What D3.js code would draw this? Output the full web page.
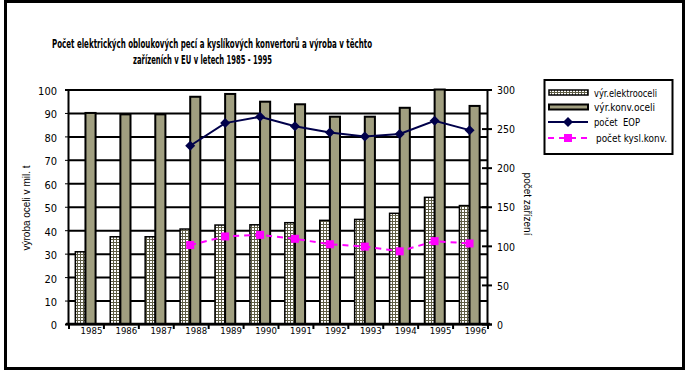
<!DOCTYPE html>
<html><head><meta charset="utf-8">
<script src="https://cdn.jsdelivr.net/npm/d3@7/dist/d3.min.js"></script>
<style>
body{margin:0;background:#fff;}
svg{display:block;}
.nar{font-family:"Liberation Sans Narrow","Arial Narrow","DejaVu Sans Condensed",sans-serif;white-space:pre;}
.reg{font-family:"Liberation Sans",Arial,sans-serif;}
</style></head>
<body>
<svg id="c" width="689" height="374"></svg>
<script>
const years = ['1985','1986','1987','1988','1989','1990','1991','1992','1993','1994','1995','1996'];
const elektro = [30.8, 37.2, 37.2, 40.5, 42.2, 42.3, 43.2, 44.2, 44.6, 47.2, 54, 50.5];
const konv = [90, 89.4, 89.4, 96.9, 98.1, 94.8, 93.7, 88.4, 88.4, 92.2, 100, 93];
const eop = [null, null, null, 228, 257, 265, 253, 245, 240, 243, 260, 248];
const kysl = [null, null, null, 101, 112, 114, 109, 102, 99, 93, 106, 103];
const leftTicks = [0,10,20,30,40,50,60,70,80,90,100];
const rightTicks = [0,50,100,150,200,250,300];
const seriesNames = ['výr.elektrooceli','výr.konv.oceli','počet  EOP','počet kysl.konv.'];
const titleLines = ['Počet elektrických obloukových pecí a kyslíkových konvertorů a výroba v těchto','zařízeních v EU v letech 1985 - 1995'];

const svg = d3.select('#c');
const L = 68, R = 487, T = 89.5, B = 324;
const olive = '#a19f80', navy = '#00004a', mag = '#ff00ff';

const defs = svg.append('defs');
const pat = defs.append('pattern').attr('id','grid').attr('width',3).attr('height',3).attr('patternUnits','userSpaceOnUse');
pat.append('rect').attr('width',3).attr('height',3).attr('fill','#fff');
pat.append('rect').attr('x',0).attr('y',2).attr('width',3).attr('height',1).attr('fill','#5e5d45');
pat.append('rect').attr('x',2).attr('y',0).attr('width',1).attr('height',3).attr('fill','#5e5d45');

// outer frame
svg.append('rect').attr('x',5.5).attr('y',1.5).attr('width',678).attr('height',367)
  .attr('fill','#fff').attr('stroke','#000').attr('stroke-width',3);

const x = d3.scaleBand().domain(years).range([L,R]).padding(0);
const yL = d3.scaleLinear().domain([0,100]).range([B,T]);
const yR = d3.scaleLinear().domain([0,300]).range([B,T]);
const bw = x.bandwidth()*0.29;

// gridlines
svg.append('g').attr('transform',`translate(${L},0)`)
  .call(d3.axisLeft(yL).tickValues(leftTicks).tickSize(-(R-L)).tickFormat(''))
  .call(g=>g.select('.domain').remove())
  .call(g=>g.selectAll('line').attr('stroke','#000').attr('stroke-width',2));

// bars
svg.append('g').selectAll('rect').data(years).join('rect')
  .attr('x',d=>x(d)+x.bandwidth()/2-bw).attr('width',bw)
  .attr('y',(d,i)=>yL(elektro[i])).attr('height',(d,i)=>B-yL(elektro[i]))
  .attr('fill','url(#grid)').attr('stroke','#000').attr('stroke-width',1.5);
svg.append('g').selectAll('rect').data(years).join('rect')
  .attr('x',d=>x(d)+x.bandwidth()/2).attr('width',bw)
  .attr('y',(d,i)=>yL(konv[i])).attr('height',(d,i)=>B-yL(konv[i]))
  .attr('fill',olive).attr('stroke','#000').attr('stroke-width',2);

// left axis
svg.append('g').attr('transform',`translate(${L},0)`)
  .call(d3.axisLeft(yL).tickValues(leftTicks).tickSize(3).tickPadding(8))
  .call(g=>g.select('.domain').attr('stroke','#000').attr('stroke-width',2))
  .call(g=>g.selectAll('text').attr('class','nar').attr('font-size',11).attr('fill','#000').attr('dy','0.45em'));

// right axis
svg.append('g').attr('transform',`translate(${R},0)`)
  .call(d3.axisRight(yR).tickValues(rightTicks).tickSize(5).tickPadding(5))
  .call(g=>g.select('.domain').attr('stroke','#000').attr('stroke-width',2))
  .call(g=>g.selectAll('.tick line').attr('x1',-5).attr('stroke-width',2))
  .call(g=>g.selectAll('text').attr('class','nar').attr('font-size',10.5).attr('fill','#000').attr('dy','0.4em'));

// bottom axis
svg.append('line').attr('x1',66).attr('x2',490).attr('y1',B).attr('y2',B).attr('stroke','#000').attr('stroke-width',2.5);
svg.append('g').selectAll('line').data(years.concat(['end'])).join('line')
  .attr('x1',(d,i)=>L+i*x.step()+1).attr('x2',(d,i)=>L+i*x.step()+1)
  .attr('y1',B).attr('y2',B+5).attr('stroke','#000').attr('stroke-width',2);
svg.append('g').attr('transform',`translate(6,${B})`)
  .call(d3.axisBottom(x).tickSize(0).tickPadding(3))
  .call(g=>g.select('.domain').remove())
  .call(g=>g.selectAll('text').attr('class','nar').attr('font-size',9.5).attr('fill','#000'));

// lines
const cx = d=>x(d)+x.bandwidth()/2;
const ptsE = years.map((d,i)=>[d,eop[i]]).filter(p=>p[1]!=null);
const ptsK = years.map((d,i)=>[d,kysl[i]]).filter(p=>p[1]!=null);
const line = d3.line().x(p=>cx(p[0])).y(p=>yR(p[1]));
svg.append('path').datum(ptsK).attr('d',line).attr('fill','none').attr('stroke',mag).attr('stroke-width',2).attr('stroke-dasharray','6,5');
svg.append('g').selectAll('rect').data(ptsK).join('rect')
  .attr('x',p=>cx(p[0])-4).attr('y',p=>yR(p[1])-4).attr('width',8).attr('height',8).attr('fill',mag);
svg.append('path').datum(ptsE).attr('d',line).attr('fill','none').attr('stroke',navy).attr('stroke-width',2);
svg.append('g').selectAll('path').data(ptsE).join('path')
  .attr('d','M0,-5L5,0L0,5L-5,0Z')
  .attr('transform',p=>`translate(${cx(p[0])},${yR(p[1])})`).attr('fill',navy);

// axis titles
svg.append('text').attr('class','reg').attr('font-size',10).attr('text-anchor','middle')
  .attr('transform','translate(30,208) rotate(-90)').text('výroba oceli v mil. t');
svg.append('text').attr('class','reg').attr('font-size',10).attr('text-anchor','middle')
  .attr('transform','translate(524,204) rotate(90)').text('počet zařízení');

// title
svg.append('text').attr('class','nar').attr('font-weight','bold').attr('font-size',13)
  .attr('x',52).attr('y',48).attr('textLength',320).attr('lengthAdjust','spacingAndGlyphs').text(titleLines[0]);
svg.append('text').attr('class','nar').attr('font-weight','bold').attr('font-size',13)
  .attr('x',133).attr('y',63.5).attr('textLength',139).attr('lengthAdjust','spacingAndGlyphs').text(titleLines[1]);

// legend
const lg = svg.append('g');
lg.append('rect').attr('x',544.5).attr('y',80).attr('width',128).attr('height',74).attr('fill','#fff').attr('stroke','#000').attr('stroke-width',2);
const rows = [92.5,107,122,138];
const legW = [63,61,46,71];
lg.append('rect').attr('x',549).attr('y',rows[0]-2.5).attr('width',39).attr('height',5).attr('fill','url(#grid)').attr('stroke','#000').attr('stroke-width',1.5);
lg.append('rect').attr('x',549).attr('y',rows[1]-2.5).attr('width',39).attr('height',5).attr('fill',olive).attr('stroke','#000').attr('stroke-width',2);
lg.append('line').attr('x1',548).attr('x2',588).attr('y1',rows[2]).attr('y2',rows[2]).attr('stroke',navy).attr('stroke-width',2);
lg.append('path').attr('d','M0,-5L5,0L0,5L-5,0Z').attr('transform',`translate(568,${rows[2]})`).attr('fill',navy);
lg.append('line').attr('x1',548).attr('x2',590).attr('y1',rows[3]).attr('y2',rows[3]).attr('stroke',mag).attr('stroke-width',2).attr('stroke-dasharray','6,5');
lg.append('rect').attr('x',564).attr('y',rows[3]-4).attr('width',8).attr('height',8).attr('fill',mag);
lg.selectAll('text').data(seriesNames).join('text').attr('class','nar').attr('font-size',11)
  .attr('x',(d,i)=>i==3?596:594).attr('y',(d,i)=>rows[i]+4)
  .attr('textLength',(d,i)=>legW[i]).attr('lengthAdjust','spacingAndGlyphs').text(d=>d);
</script>
</body></html>
